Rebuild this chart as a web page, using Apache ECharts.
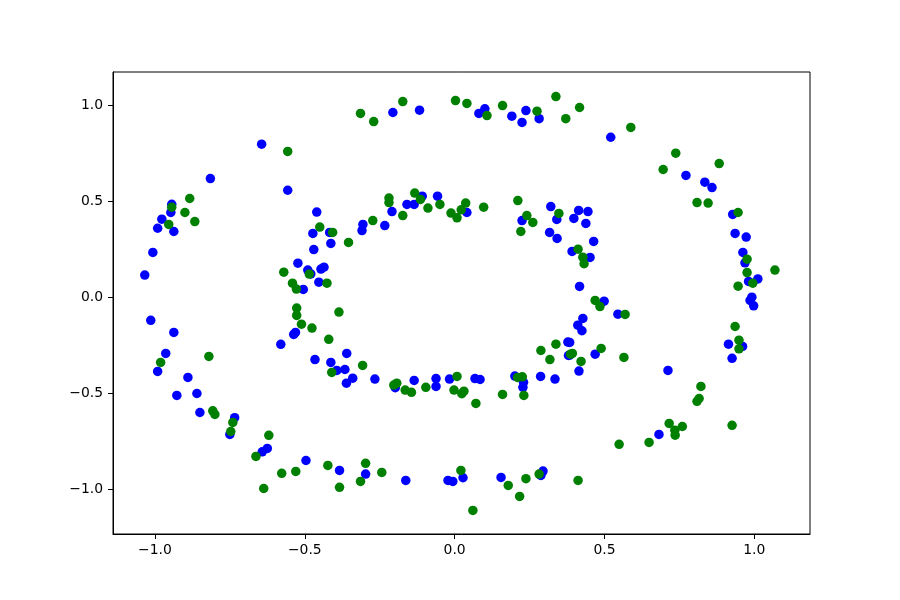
<!DOCTYPE html>
<html>
<head>
<meta charset="utf-8">
<script src="https://cdn.jsdelivr.net/npm/echarts@6/dist/echarts.min.js"></script>
<style>
html,body{margin:0;padding:0;background:#fff;}
#chart{width:900px;height:600px;}
</style>
</head>
<body>
<div id="chart"></div>
<script>
const xTicks = [-1.0, -0.5, 0.0, 0.5, 1.0];
const yTicks = [-1.0, -0.5, 0.0, 0.5, 1.0];

const blue = [
[-0.644,0.797],[-0.815,0.618],[-0.557,0.557],[-0.944,0.484],[-0.947,0.441],[-0.977,0.406],[-0.991,0.359],[-0.937,0.342],[-1.007,0.233],[-1.034,0.115],
[-0.460,0.443],[-0.473,0.332],[-0.417,0.337],[-0.413,0.280],[-0.470,0.248],[-0.523,0.177],[-0.490,0.141],[-0.480,0.121],[-0.446,0.146],[-0.436,0.156],[-0.505,0.040],[-0.453,0.078],
[-0.206,0.962],[-0.117,0.974],[0.081,0.957],[0.101,0.981],[0.191,0.943],[0.225,0.910],[0.238,0.972],[0.282,0.930],[0.521,0.833],
[-0.309,0.347],[-0.306,0.379],[-0.233,0.373],[-0.209,0.446],[-0.159,0.483],[-0.135,0.483],[-0.108,0.526],[-0.057,0.526],[0.041,0.441],[0.225,0.399],[0.321,0.472],[0.341,0.405],[0.317,0.337],[0.342,0.306],[0.398,0.410],[0.414,0.452],[0.445,0.446],[0.438,0.384],[0.464,0.290],[0.392,0.238],[0.452,0.207],[0.417,0.056],[0.499,-0.021],[0.545,-0.089],
[0.772,0.634],[0.835,0.599],[0.859,0.571],[0.928,0.431],[0.936,0.332],[0.973,0.313],[0.962,0.233],[0.969,0.179],[1.012,0.095],[0.981,0.082],[0.992,0.0],[0.986,-0.017],[0.998,-0.045],[0.914,-0.245],[0.961,-0.257],[0.926,-0.319],[0.712,-0.382],[0.682,-0.715],
[0.428,-0.111],[0.411,-0.146],[0.425,-0.175],[0.384,-0.236],[0.384,-0.302],[0.469,-0.297],[0.415,-0.385],[0.378,-0.234],[0.380,-0.304],
[0.287,-0.413],[0.335,-0.427],[0.201,-0.411],[0.230,-0.444],[0.228,-0.470],[0.068,-0.424],[0.085,-0.429],[-0.017,-0.427],[-0.062,-0.424],[-0.062,-0.465],[-0.135,-0.434],[-0.198,-0.472],[-0.266,-0.427],[-0.360,-0.293],[-0.366,-0.377],[-0.340,-0.422],[-0.361,-0.448],
[-0.531,-0.184],[-0.537,-0.194],[-0.580,-0.246],[-0.466,-0.325],[-0.413,-0.340],[-0.393,-0.382],
[-0.384,-0.903],[-0.297,-0.922],[-0.163,-0.955],[-0.022,-0.955],[-0.006,-0.960],[0.028,-0.941],[0.155,-0.939],[0.295,-0.906],[0.288,-0.929],
[-1.014,-0.121],[-0.937,-0.184],[-0.964,-0.293],[-0.991,-0.387],[-0.890,-0.418],[-0.927,-0.512],[-0.860,-0.502],[-0.850,-0.601],[-0.734,-0.628],[-0.750,-0.715],[-0.642,-0.806],[-0.625,-0.788],[-0.496,-0.851]
];

const green = [
[-0.557,0.759],[-0.944,0.469],[-0.884,0.514],[-0.900,0.441],[-0.867,0.394],[-0.954,0.379],
[-0.450,0.365],[-0.407,0.337],[-0.354,0.285],[-0.485,0.120],[-0.570,0.130],[-0.541,0.073],[-0.528,0.042],[-0.426,0.073],[-0.527,-0.057],[-0.386,-0.078],
[-0.314,0.957],[-0.270,0.915],[-0.173,1.019],[0.003,1.024],[0.041,1.009],[0.108,0.946],[0.160,0.998],[0.275,0.969],[0.338,1.045],[0.371,0.930],[0.417,0.988],[0.588,0.884],
[-0.273,0.399],[-0.219,0.516],[-0.219,0.493],[-0.173,0.425],[-0.133,0.542],[-0.114,0.509],[-0.089,0.464],[-0.049,0.483],[-0.012,0.438],[0.008,0.413],[0.022,0.455],[0.037,0.490],[0.097,0.469],[0.211,0.503],[0.241,0.425],[0.261,0.389],[0.221,0.342],[0.348,0.436],[0.412,0.250],[0.428,0.208],[0.432,0.174],[0.469,-0.017],[0.485,-0.049],[0.569,-0.090],
[0.738,0.750],[0.696,0.665],[0.883,0.696],[0.809,0.493],[0.846,0.490],[0.946,0.441],[0.976,0.198],[0.976,0.128],[0.995,0.073],[0.946,0.057],[1.069,0.141],[0.936,-0.153],[0.949,-0.224],[0.949,-0.269],[0.822,-0.465],[0.816,-0.528],[0.809,-0.543],[0.926,-0.668],[0.716,-0.658],[0.760,-0.674],[0.736,-0.719],[0.735,-0.693],[0.649,-0.757],[0.549,-0.767],[0.412,-0.955],
[0.393,-0.293],[0.387,-0.297],[0.489,-0.267],[0.422,-0.335],[0.565,-0.314],[0.338,-0.245],[0.288,-0.278],[0.318,-0.325],
[0.210,-0.418],[0.226,-0.415],[0.231,-0.512],[0.160,-0.507],[0.071,-0.554],[0.008,-0.413],[-0.002,-0.484],[0.024,-0.503],[0.031,-0.490],[-0.096,-0.470],[-0.165,-0.484],[-0.144,-0.496],[-0.203,-0.458],[-0.193,-0.448],[-0.307,-0.356],
[-0.527,-0.095],[-0.511,-0.141],[-0.476,-0.161],[-0.420,-0.220],[-0.410,-0.392],
[-0.384,-0.991],[-0.297,-0.866],[-0.314,-0.960],[-0.243,-0.913],[0.021,-0.903],[0.061,-1.111],[0.179,-0.981],[0.217,-1.038],[0.238,-0.946],[0.282,-0.922],
[-0.981,-0.340],[-0.820,-0.309],[-0.807,-0.592],[-0.800,-0.611],[-0.740,-0.653],[-0.747,-0.700],[-0.620,-0.720],[-0.663,-0.830],[-0.637,-0.997],[-0.577,-0.918],[-0.530,-0.908],[-0.423,-0.877]
];

function fmt(v) {
  return (v < 0 ? '\u2212' : '') + Math.abs(v).toFixed(1);
}

const chart = echarts.init(document.getElementById('chart'), null, {renderer: 'canvas'});
const axisCommon = {
  type: 'value',
  axisLine: {show: true, onZero: false, lineStyle: {color: '#000', width: 1}},
  axisTick: {show: true, inside: false, length: 5, lineStyle: {color: '#000', width: 1}},
  splitLine: {show: false},
};
chart.setOption({
  animation: false,
  backgroundColor: '#fff',
  grid: {left: 113, top: 72, width: 697, height: 462, show: true, borderColor: '#000', borderWidth: 1, backgroundColor: 'transparent'},
  xAxis: Object.assign({}, axisCommon, {
    min: -1.140, max: 1.186,
    axisTick: Object.assign({}, axisCommon.axisTick, {customValues: xTicks}),
    axisLabel: {customValues: xTicks, formatter: fmt, color: '#000', fontFamily: 'DejaVu Sans', fontSize: 13.9, margin: 9}
  }),
  yAxis: Object.assign({}, axisCommon, {
    min: -1.234, max: 1.173,
    axisTick: Object.assign({}, axisCommon.axisTick, {customValues: yTicks}),
    axisLabel: {customValues: yTicks, formatter: fmt, color: '#000', fontFamily: 'DejaVu Sans', fontSize: 13.9, margin: 10}
  }),
  series: [
    {type: 'scatter', data: blue, symbol: 'circle', symbolSize: 9.5, itemStyle: {color: '#0000ff', opacity: 1}, emphasis: {disabled: true}},
    {type: 'scatter', data: green, symbol: 'circle', symbolSize: 9.5, itemStyle: {color: '#008000', opacity: 1}, emphasis: {disabled: true}}
  ]
});
</script>
</body>
</html>
